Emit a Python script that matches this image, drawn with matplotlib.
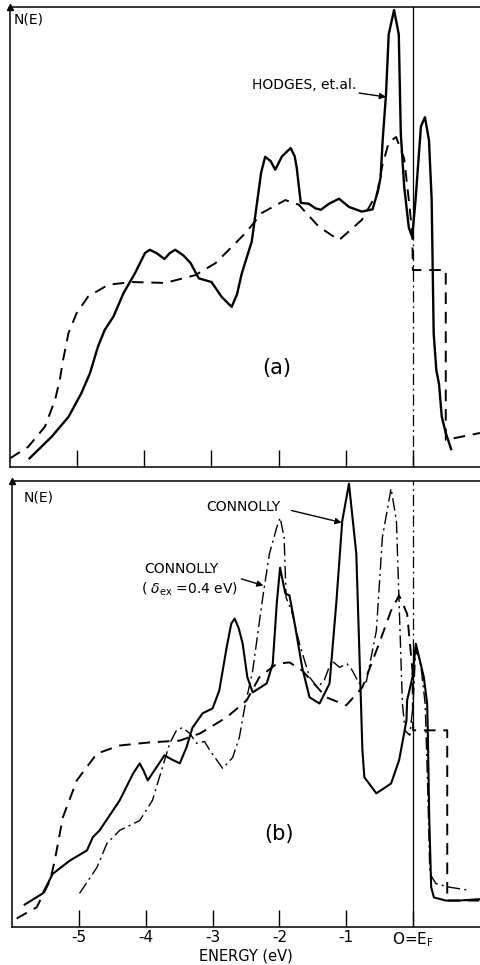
import matplotlib.pyplot as plt

plt.rcParams['font.family'] = ['DejaVu Sans']

# ---- panel (a): HODGES et al. (solid) and broad band (dashed)
hodges_e = [-5.71, -5.38, -5.13, -4.94, -4.81, -4.69, -4.59, -4.46, -4.31, -4.14,
            -3.99, -3.92, -3.82, -3.70, -3.62, -3.54, -3.42, -3.31, -3.19, -3.00,
            -2.85, -2.70, -2.62, -2.55, -2.40, -2.33, -2.26, -2.20, -2.12, -2.05,
            -1.95, -1.82, -1.76, -1.73, -1.67, -1.55, -1.45, -1.37, -1.25, -1.10,
            -0.95, -0.76, -0.60, -0.52, -0.48, -0.45, -0.40, -0.36, -0.28, -0.21,
            -0.18, -0.13, -0.06, -0.01, 0.04, 0.12, 0.18, 0.24, 0.28, 0.31,
            0.35, 0.39, 0.43, 0.49, 0.57]
hodges_n = [1.9, 6.6, 10.9, 16.0, 20.4, 26.2, 29.8, 32.7, 37.8, 42.1,
            46.5, 47.2, 46.5, 45.2, 46.5, 47.2, 46.0, 44.3, 41.0, 40.2,
            37.0, 34.8, 37.5, 42.0, 49.0, 56.5, 64.0, 67.4, 66.5, 64.6,
            67.5, 69.3, 67.5, 65.0, 57.4, 57.2, 56.2, 55.9, 57.2, 58.3,
            56.5, 55.5, 56.0, 60.0, 63.0, 71.0, 81.0, 94.0, 99.3, 94.0,
            72.5, 61.0, 52.0, 50.0, 58.0, 74.0, 76.0, 71.0, 58.0, 29.0,
            21.0, 18.0, 11.0, 7.4, 3.9]

band_a_e = [-6.00, -5.73, -5.48, -5.33, -5.26, -5.21, -5.13, -5.01, -4.84, -4.54,
            -4.19, -3.69, -3.24, -2.94, -2.70, -2.49, -2.25, -1.90, -1.70, -1.40,
            -1.10, -0.76, -0.53, -0.46, -0.36, -0.25, -0.13, -0.06, -0.01, 0.00,
            0.49, 0.49, 1.00]
band_a_n = [1.9, 4.4, 8.8, 14.6, 18.9, 23.3, 29.1, 33.4, 37.0, 39.6,
            40.2, 40.0, 41.7, 44.3, 47.8, 50.9, 55.2, 58.0, 57.0, 52.2,
            49.3, 53.7, 59.6, 65.2, 70.5, 71.7, 67.0, 58.0, 51.0, 42.8,
            42.8, 5.9, 7.4]

# ---- panel (b): CONNOLLY (solid), CONNOLLY d_ex=0.4 eV (dash-dot), broad band (dashed)
conn_e = [-5.81, -5.54, -5.39, -5.13, -4.88, -4.79, -4.69, -4.39, -4.19, -4.09,
          -4.03, -3.97, -3.84, -3.72, -3.60, -3.49, -3.39, -3.30, -3.15, -3.00,
          -2.90, -2.79, -2.72, -2.67, -2.61, -2.55, -2.48, -2.40, -2.19, -2.10,
          -2.04, -1.99, -1.93, -1.91, -1.85, -1.78, -1.66, -1.55, -1.40, -1.25,
          -1.15, -1.06, -0.96, -0.85, -0.78, -0.76, -0.73, -0.55, -0.33, -0.21,
          -0.10, -0.09, -0.01, 0.04, 0.09, 0.16, 0.21, 0.22, 0.24, 0.27, 0.31,
          0.49, 0.69, 0.99]
conn_n = [5.1, 7.6, 12.0, 15.0, 17.2, 20.2, 21.7, 28.4, 34.4, 36.7,
          35.0, 32.9, 35.8, 38.5, 37.5, 36.7, 40.3, 44.7, 47.9, 49.0,
          53.0, 62.6, 68.0, 69.1, 67.0, 63.5, 56.0, 52.6, 54.6, 59.0,
          72.5, 80.5, 76.0, 74.7, 74.3, 68.7, 58.2, 51.5, 50.1, 54.6,
          72.5, 91.0, 99.3, 83.6, 50.0, 40.0, 33.6, 30.0, 32.2, 37.4,
          46.3, 50.8, 56.0, 63.5, 60.4, 56.0, 50.0, 43.4, 25.0, 9.0, 6.7,
          6.0, 6.0, 6.3]

shift_e = [-4.99, -4.73, -4.58, -4.39, -4.09, -3.90, -3.75, -3.64, -3.54, -3.45,
           -3.34, -3.24, -3.12, -3.04, -2.85, -2.70, -2.60, -2.52, -2.40, -2.25,
           -2.15, -2.04, -1.99, -1.93, -1.90, -1.82, -1.70, -1.55, -1.43, -1.33,
           -1.22, -1.10, -0.99, -0.91, -0.81, -0.70, -0.55, -0.46, -0.33, -0.25,
           -0.21, -0.16, -0.12, -0.05, 0.00, 0.03, 0.06, 0.12, 0.18, 0.22,
           0.25, 0.34, 0.54, 0.84]
shift_n = [7.6, 13.4, 18.8, 21.7, 23.9, 28.4, 35.8, 41.2, 44.1, 44.7,
           43.4, 41.2, 41.6, 39.6, 35.6, 38.0, 42.5, 49.2, 57.5, 73.8,
           83.6, 89.5, 91.7, 87.3, 73.8, 70.9, 63.5, 56.0, 53.7, 55.3,
           59.7, 58.2, 59.0, 57.5, 54.6, 55.0, 66.4, 87.3, 98.2, 91.0,
           72.5, 50.0, 44.0, 43.0, 50.0, 60.0, 62.0, 58.0, 50.0, 30.0,
           12.0, 9.8, 9.0, 8.3]

band_b_e = [-5.93, -5.63, -5.43, -5.36, -5.24, -5.03, -4.73, -4.39, -3.94, -3.49,
            -3.19, -2.79, -2.49, -2.30, -2.04, -1.85, -1.66, -1.30, -1.00, -0.76,
            -0.51, -0.33, -0.21, -0.09, -0.01, 0.00, 0.51, 0.51, 1.00]
band_b_n = [2.0, 4.5, 10.5, 15.0, 24.6, 32.9, 38.9, 40.7, 41.4, 41.8,
            43.4, 47.0, 50.8, 56.0, 59.0, 59.3, 57.5, 51.5, 49.7, 53.7,
            63.5, 70.9, 74.3, 70.2, 57.5, 44.1, 44.1, 6.0, 6.0]

tick_pos = [-5, -4, -3, -2, -1, 0]
tick_lab = ['-5', '-4', '-3', '-2', '-1', r'O=E$_{\rm F}$']

dash = (0, (6, 4))
dashdot = (0, (9, 3, 1.5, 3))

fig = plt.figure(figsize=(4.8, 9.65), dpi=100)
ax1 = fig.add_axes([0.021, 0.516, 0.979, 0.477])
ax2 = fig.add_axes([0.025, 0.039, 0.975, 0.463])

for ax in (ax1, ax2):
    ax.set_xlim(-6.0, 1.0)
    ax.set_ylim(0, 100)
    ax.spines['right'].set_visible(False)
    for s in ('left', 'bottom', 'top'):
        ax.spines[s].set_linewidth(1.1)
    ax.set_yticks([])
    ax.set_xticks(tick_pos)
    ax.tick_params(axis='x', direction='in', length=12, width=1.0, labelsize=11, pad=2)
    ax.plot(0, 1, marker='^', color='k', ms=4, transform=ax.transAxes, clip_on=False)

# panel (a)
ax1.set_xticklabels([])
ax1.plot([0, 0], [50, 100], color='k', lw=0.9)
ax1.plot([0, 0], [0, 50], color='k', lw=0.9, linestyle=dashdot)
ax1.plot(band_a_e, band_a_n, color='k', lw=1.4, linestyle=dash)
ax1.plot(hodges_e, hodges_n, color='k', lw=1.7)
ax1.text(-5.95, 97.2, 'N(E)', fontsize=10, va='center', ha='left')
ax1.annotate('HODGES, et.al.', xy=(-0.40, 80.4), xytext=(-1.62, 83.0),
             fontsize=10, ha='center', va='center',
             arrowprops=dict(arrowstyle='-|>', color='k', lw=1.0,
                             shrinkA=38, shrinkB=0, mutation_scale=9))
ax1.text(-2.03, 21.5, '(a)', fontsize=15, ha='center', va='center')

# panel (b)
ax2.set_xticklabels(tick_lab)
ax2.plot([0, 0], [0, 62], color='k', lw=0.9)
ax2.plot([0, 0], [62, 100], color='k', lw=0.9, linestyle=dashdot)
ax2.plot(band_b_e, band_b_n, color='k', lw=1.4, linestyle=dash)
ax2.plot(shift_e, shift_n, color='k', lw=1.0, linestyle=dashdot)
ax2.plot(conn_e, conn_n, color='k', lw=1.5)
ax2.text(-5.83, 96.2, 'N(E)', fontsize=10, va='center', ha='left')
ax2.text(-2.54, 94.0, 'CONNOLLY', fontsize=10, ha='center', va='center')
ax2.annotate('', xy=(-1.07, 90.6), xytext=(-1.82, 93.3),
             arrowprops=dict(arrowstyle='-|>', color='k', lw=1.0,
                             shrinkA=0, shrinkB=0, mutation_scale=9))
ax2.text(-3.46, 80.3, 'CONNOLLY', fontsize=10, ha='center', va='center')
ax2.text(-3.34, 75.6, r'( $\delta_{\rm ex}$ =0.4 eV)', fontsize=10, ha='center', va='center')
ax2.annotate('', xy=(-2.24, 76.5), xytext=(-2.57, 78.0),
             arrowprops=dict(arrowstyle='-|>', color='k', lw=1.0,
                             shrinkA=0, shrinkB=0, mutation_scale=9))
ax2.text(-2.01, 21.0, '(b)', fontsize=15, ha='center', va='center')
ax2.set_xlabel('ENERGY (eV)', fontsize=10.5, labelpad=0)

fig.savefig('out.png', dpi=100)
